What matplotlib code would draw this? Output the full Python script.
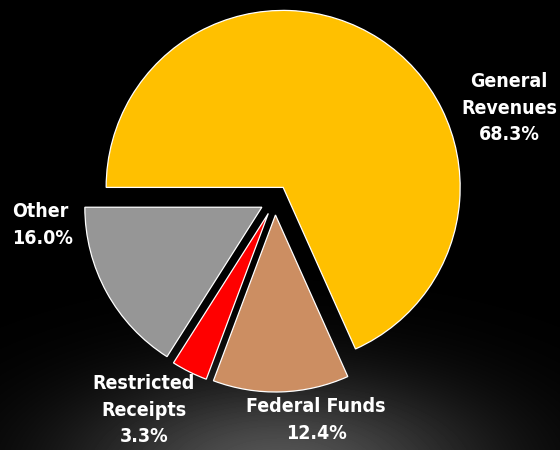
import matplotlib.pyplot as plt
import numpy as np

# Revenue sources (share of total, %)
sources = ["General\nRevenues", "Federal Funds", "Restricted\nReceipts", "Other"]
shares = [68.3, 12.4, 3.3, 16.0]
colors = ["#FFC000", "#CC8E62", "#FF0000", "#969696"]

# label anchor points (canvas pixels, y up) and alignment
label_xy = [(509, 342), (316, 30), (144, 40), (12, 225)]
label_ha = ["center", "center", "center", "left"]

W, H = 560, 450

fig = plt.figure(figsize=(W / 100, H / 100), dpi=100)
fig.patch.set_facecolor("black")
ax = fig.add_axes([0, 0, 1, 1])
ax.set_facecolor("black")

# soft grey glow rising from the bottom edge
gx, gy = np.meshgrid(np.arange(W), np.arange(H))
glow = 0.33 * np.exp(-((gx - 280) / 200.0) ** 2 - ((gy + 20) / 90.0) ** 2)
ax.imshow(glow, cmap="gray", vmin=0, vmax=1, origin="lower",
          extent=(0, W, 0, H), zorder=0, interpolation="bilinear")

wedges, _ = ax.pie(shares, colors=colors, startangle=180, counterclock=False,
                   center=(275, 250), radius=177, explode=[15] * len(shares),
                   wedgeprops=dict(edgecolor="white", linewidth=0.9),
                   normalize=True, frame=True)
for w in wedges:
    w.set_zorder(2)

for name, val, (x, y), ha in zip(sources, shares, label_xy, label_ha):
    ax.text(x, y, f"{name}\n{val:.1f}%", ha=ha, va="center", color="white",
            fontsize=14, fontweight="bold", fontstretch="condensed",
            linespacing=1.5, zorder=3,
            family=["Liberation Sans Narrow", "DejaVu Sans Condensed", "DejaVu Sans"])

ax.set_xlim(0, W)
ax.set_ylim(0, H)
ax.set_aspect("equal")
ax.axis("off")

fig.savefig("out.png", dpi=100, facecolor="black")
